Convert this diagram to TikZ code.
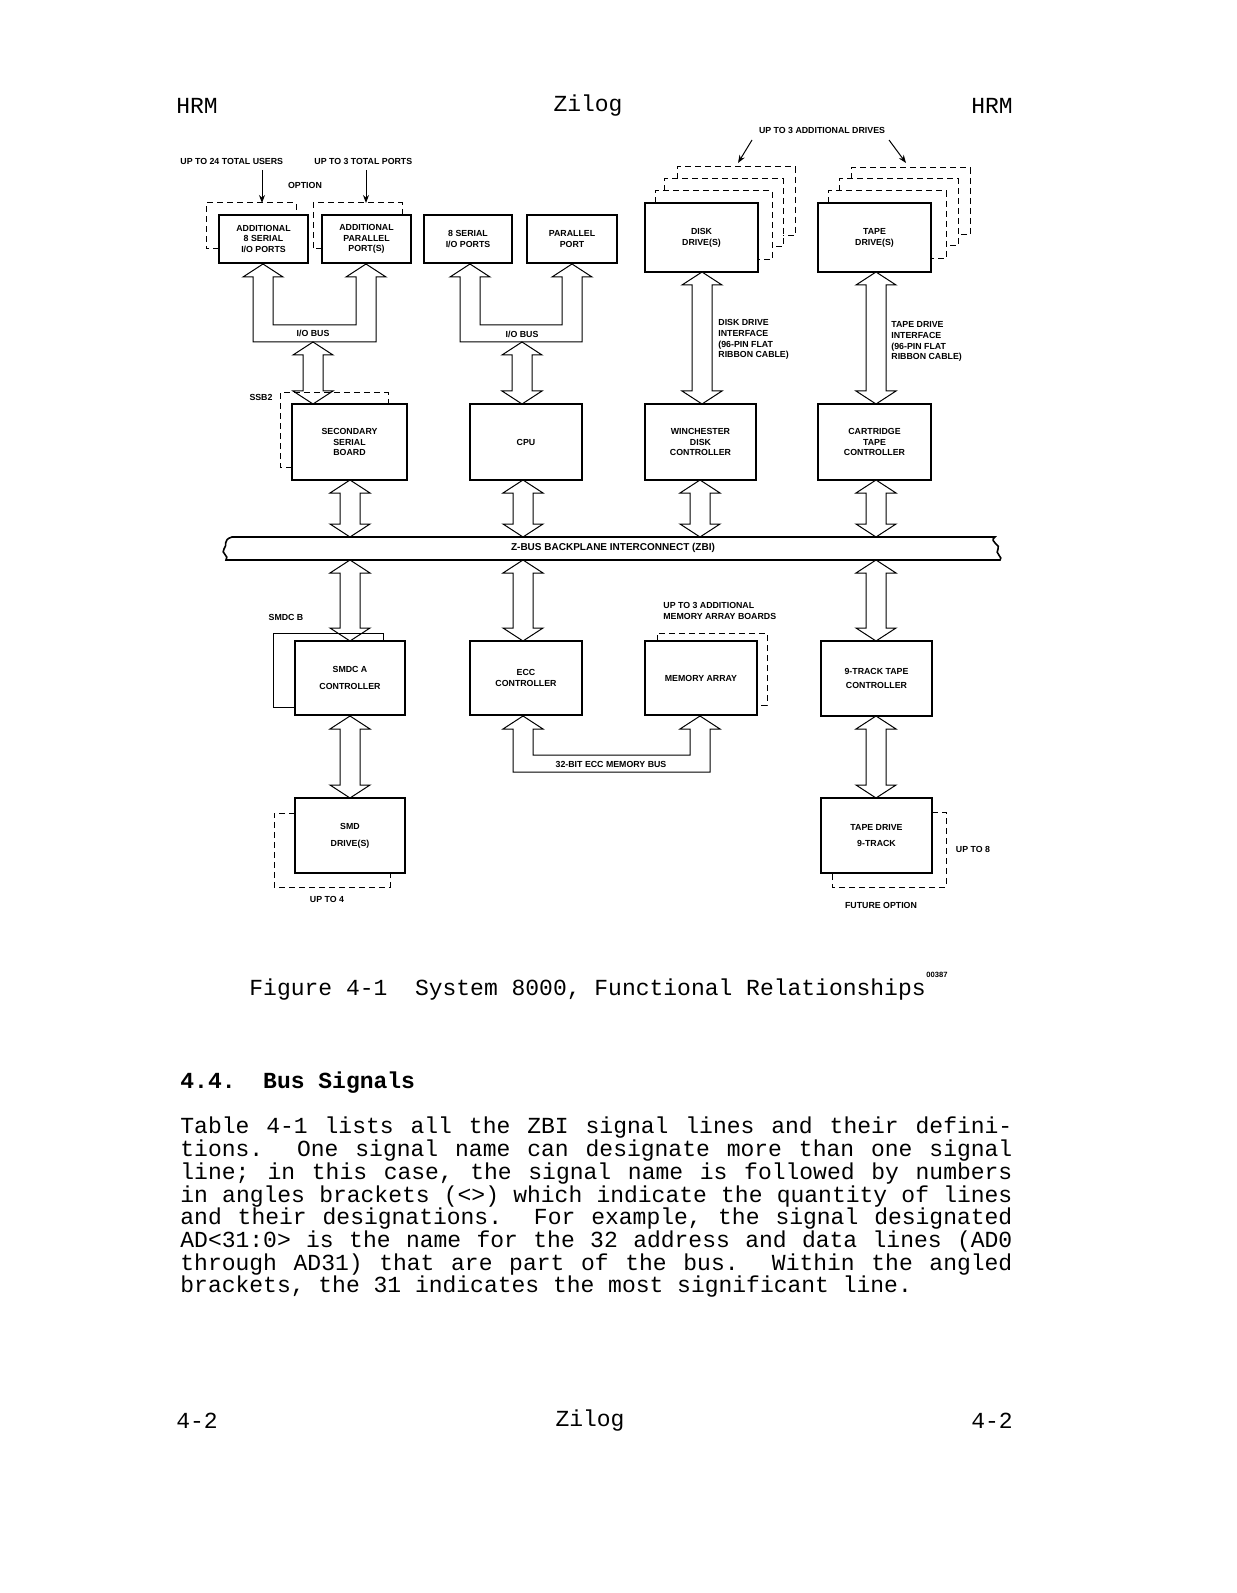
\documentclass[tikz,border=0pt]{standalone}
\usepackage{fontspec}
\usetikzlibrary{arrows.meta}
\setmainfont{Liberation Sans}
\newfontfamily\mono{Liberation Mono}
\begin{document}
\begin{tikzpicture}[x=0.5pt,y=-0.5pt,
  lab/.style={font=\fontsize{4.4}{5.4}\selectfont\bfseries,align=center,inner sep=0},
  tt/.style={font=\mono\fontsize{11.5}{13}\selectfont,inner sep=0},
  boxline/.style={line width=1.4pt},
  thin/.style={line width=0.5pt},
  dsh/.style={line width=0.5pt,dash pattern=on 3pt off 2pt}]
\useasboundingbox (0,0) rectangle (1236,1593);
\fill[white] (0,0) rectangle (1236,1593);
\newcommand\bx[6]{\draw[boxline] (#2,#3) rectangle (#4,#5);
  \node[lab] (#1) at ({(#2+#4)/2},{(#3+#5)/2}) {#6};}
\newcommand\vdar[3]{\draw[thin,fill=white] ({#1-10},{#2+13})--({#1-20},{#2+13})--(#1,#2)--({#1+20},{#2+13})--({#1+10},{#2+13})--({#1+10},{#3-13})--({#1+20},{#3-13})--(#1,#3)--({#1-20},{#3-13})--({#1-10},{#3-13})--cycle;}
\newcommand\ubus[5]{\draw[thin] ({#1-10},{#3+13})--({#1-20},{#3+13})--(#1,#3)--({#1+20},{#3+13})--({#1+10},{#3+13})--({#1+10},#5)--({#2-10},#5)--({#2-10},{#3+13})--({#2-20},{#3+13})--(#2,#3)--({#2+20},{#3+13})--({#2+10},{#3+13})--({#2+10},#4)--({#1-10},#4)--cycle;}
% headers
\node[tt] (h1) at (197,106) {HRM};
\node[tt] (h2) at (588,106) {Zilog};
\node[tt] (h3) at (992,106) {HRM};
% top labels
\node[lab,anchor=west] (u24) at (180,161) {UP TO 24 TOTAL USERS};
\node[lab,anchor=west] (u3) at (314,161) {UP TO 3 TOTAL PORTS};
\node[lab] (opt) at (305,185) {OPTION};
\coordinate (a1) at (262,170); \coordinate (a2) at (262,203);
\coordinate (b1) at (366,170); \coordinate (b2) at (366,203);
\draw[thin,-{Stealth[length=4pt,width=3pt]}] (a1)--(a2);
\draw[thin,-{Stealth[length=4pt,width=3pt]}] (b1)--(b2);
% top boxes
\bx{as}{219}{215}{308}{263}{ADDITIONAL\\8 SERIAL\\I/O PORTS}
\bx{ap}{322}{215}{411}{263}{ADDITIONAL\\PARALLEL\\PORT(S)}
\bx{ss}{424}{215}{512}{263}{8 SERIAL\\I/O PORTS}
\bx{pp}{527}{215}{617}{263}{PARALLEL\\PORT}
\draw[dsh] (219,249)--(206,249)--(206,203)--(296,203)--(296,215);
\draw[dsh] (322,249)--(313,249)--(313,203)--(402,203)--(402,215);
% io buses
\ubus{263}{366}{264}{342}{325}
\node[lab] (iob1) at (313,333) {I/O BUS};
\ubus{470}{572}{264}{342}{325}
\node[lab] (iob2) at (522,334) {I/O BUS};
\vdar{313}{342}{404}
\vdar{522}{342}{404}
% SSB2
\node[lab] (ssb2) at (261,397) {SSB2};
\draw[dsh] (292,467)--(280,467)--(280,393)--(388,393)--(388,404);
\bx{sec}{292}{404}{407}{480}{SECONDARY\\SERIAL\\BOARD}
\bx{cpu}{470}{404}{582}{480}{CPU}
% disk/tape drives
\node[lab] (up3d) at (822,130) {UP TO 3 ADDITIONAL DRIVES};
\draw[thin,-{Stealth[length=4pt,width=3pt]}] (752,140)--(738,163);
\draw[thin,-{Stealth[length=4pt,width=3pt]}] (889,140)--(906,163);
\bx{dd}{645}{203}{758}{272}{DISK\\DRIVE(S)}
\draw[dsh] (655,203)--(655,191)--(772,191)--(772,260)--(758,260);
\draw[dsh] (664,191)--(664,179)--(783,179)--(783,247)--(772,247);
\draw[dsh] (677,179)--(677,167)--(795,167)--(795,236)--(783,236);
\bx{td}{818}{203}{931}{272}{TAPE\\DRIVE(S)}
\draw[dsh] (828,203)--(828,191)--(946,191)--(946,259)--(931,259);
\draw[dsh] (839,191)--(839,179)--(958,179)--(958,246)--(946,246);
\draw[dsh] (851,179)--(851,168)--(970,168)--(970,235)--(958,235);
\vdar{702}{272}{404}
\vdar{876}{272}{404}
\node[lab,anchor=north west,align=left] (ddi) at (718,319) {DISK DRIVE\\INTERFACE\\(96-PIN FLAT\\RIBBON CABLE)};
\node[lab,anchor=north west,align=left] (tdi) at (891,321) {TAPE DRIVE\\INTERFACE\\(96-PIN FLAT\\RIBBON CABLE)};
\bx{wdc}{645}{404}{756}{480}{WINCHESTER\\DISK\\CONTROLLER}
\bx{ctc}{818}{404}{931}{480}{CARTRIDGE\\TAPE\\CONTROLLER}
% arrows to bus
\vdar{350}{480}{537}
\vdar{523}{480}{537}
\vdar{700}{480}{537}
\vdar{876}{480}{537}
% bus
\draw[line width=0.8pt,fill=white] (232,537)--(995,537) .. controls (988,542) and (1002,545) .. (998,549) .. controls (994,553) and (1004,558) .. (1000,560) -- (226,560) .. controls (230,556) and (220,553) .. (224,549) .. controls (228,545) and (222,540) .. (232,537) -- cycle;
\node[lab,font=\fontsize{5}{6}\selectfont\bfseries] (zbi) at (613,548) {Z-BUS BACKPLANE INTERCONNECT (ZBI)};
% arrows below bus
\vdar{350}{560}{641}
\vdar{523}{560}{641}
\vdar{876}{560}{641}
% lower boxes
\node[lab] (smdcb) at (286,617) {SMDC B};
\draw[thin] (295,707)--(273,707)--(273,633)--(383,633)--(383,641);
\bx{smdca}{295}{641}{405}{715}{SMDC A\\[3pt]CONTROLLER}
\bx{ecc}{470}{641}{582}{715}{ECC\\CONTROLLER}
\bx{mem}{645}{641}{757}{715}{MEMORY ARRAY}
\draw[dsh] (657,641)--(657,633)--(767,633)--(767,705)--(757,705);
\node[lab,anchor=west,align=left] (up3m) at (663,611) {UP TO 3 ADDITIONAL\\MEMORY ARRAY BOARDS};
\bx{ntc}{821}{641}{932}{716}{9-TRACK TAPE\\[2pt]CONTROLLER}
\ubus{523}{700}{716}{772}{755}
\node[lab] (eccbus) at (611,764) {32-BIT ECC MEMORY BUS};
\vdar{350}{716}{798}
\vdar{876}{716}{798}
\bx{smd}{295}{798}{405}{873}{SMD\\[3pt]DRIVE(S)}
\draw[dsh] (295,813)--(274,813)--(274,887)--(390,887)--(390,873);
\node[lab] (up4) at (327,899) {UP TO 4};
\bx{tdr}{821}{798}{932}{873}{TAPE DRIVE\\[3pt]9-TRACK};
\draw[dsh] (932,812)--(946,812)--(946,887)--(832,887)--(832,873);
\node[lab] (up8) at (973,849) {UP TO 8};
\node[lab] (fut) at (881,905) {FUTURE OPTION};
% caption
\node[lab,font=\fontsize{3.8}{4}\selectfont\bfseries] (num) at (937,975) {00387};
\node[tt,anchor=west] (cap) at (249,990) {Figure 4-1\ \ System 8000, Functional Relationships};
\node[tt,anchor=west,font=\mono\bfseries\fontsize{11.5}{13}\selectfont] (sec44) at (180,1083) {4.4.\ \ Bus Signals};
\begin{scope}[every node/.style={tt,anchor=west}]
\newcommand\jl[1]{{\spaceskip=0.6em plus 3em\relax\makebox[416pt][s]{#1}}}
\node (p1) at (180,1128) {\jl{Table 4-1 lists all the ZBI signal lines and their defini-}};
\node (p2) at (180,1151) {\jl{tions.\ \ One signal name can designate more than one signal}};
\node (p3) at (180,1174) {\jl{line; in this case, the signal name is followed by numbers}};
\node (p4) at (180,1197) {\jl{in angles brackets (<>) which indicate the quantity of lines}};
\node (p5) at (180,1219) {\jl{and their designations.\ \ For example, the signal designated}};
\node (p6) at (180,1242) {\jl{AD<31:0> is the name for the 32 address and data lines (AD0}};
\node (p7) at (180,1265) {\jl{through AD31) that are part of the bus.\ \ Within the angled}};
\node (p8) at (180,1287) {brackets, the 31 indicates the most significant line.};
\end{scope}
\node[tt] (f1) at (197,1421) {4-2};
\node[tt] (f2) at (590,1421) {Zilog};
\node[tt] (f3) at (992,1421) {4-2};
\end{tikzpicture}
\end{document}
